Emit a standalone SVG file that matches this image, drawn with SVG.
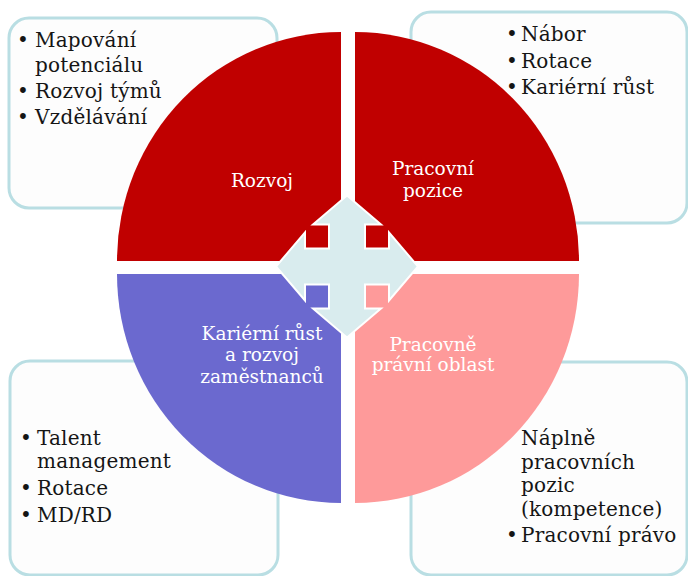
<svg xmlns="http://www.w3.org/2000/svg" width="688" height="576" viewBox="0 0 688 576">
  <style>
    .box { fill: #FDFDFD; stroke: #B9DEE3; stroke-width: 3; }
    .item { font-family: "DejaVu Serif", "Liberation Serif", serif; font-size: 20px; letter-spacing: 0.2px; fill: #151515; }
    .label { font-family: "DejaVu Serif", "Liberation Serif", serif; font-size: 18.5px; fill: #FFFFFF; text-anchor: middle; }
    .arrow { fill: #D9ECEE; stroke: #FFFFFF; stroke-width: 2; stroke-linejoin: miter; }
  </style>

  <!-- outer text panels -->
  <g id="panel-tl">
    <rect class="box" x="9" y="18" width="268" height="190" rx="20"/>
    <text class="item" x="17" y="47">•</text><text class="item" x="35" y="47">Mapování</text>
    <text class="item" x="35" y="72">potenciálu</text>
    <text class="item" x="17" y="98">•</text><text class="item" x="35" y="98">Rozvoj týmů</text>
    <text class="item" x="17" y="124">•</text><text class="item" x="35" y="124">Vzdělávání</text>
  </g>
  <g id="panel-tr">
    <rect class="box" x="411" y="12" width="276" height="211" rx="20"/>
    <text class="item" x="506" y="41">•</text><text class="item" x="521" y="41">Nábor</text>
    <text class="item" x="506" y="67.5">•</text><text class="item" x="521" y="67.5">Rotace</text>
    <text class="item" x="506" y="94">•</text><text class="item" x="521" y="94">Kariérní růst</text>
  </g>
  <g id="panel-bl">
    <rect class="box" x="10" y="361" width="268" height="214" rx="20"/>
    <text class="item" x="20" y="445">•</text><text class="item" x="37" y="445">Talent</text>
    <text class="item" x="37" y="468">management</text>
    <text class="item" x="20" y="495">•</text><text class="item" x="37" y="495">Rotace</text>
    <text class="item" x="20" y="522">•</text><text class="item" x="37" y="522">MD/RD</text>
  </g>
  <g id="panel-br">
    <rect class="box" x="411" y="362" width="276" height="213" rx="20"/>
    <!-- first bullet sits under the edge of the pink quadrant -->
    <text class="item" x="502" y="444">•</text><text class="item" x="521" y="445">Náplně</text>
    <text class="item" x="521" y="469">pracovních</text>
    <text class="item" x="521" y="492">pozic</text>
    <text class="item" x="521" y="516">(kompetence)</text>
    <text class="item" x="506" y="542">•</text><text class="item" x="521" y="542">Pracovní právo</text>
  </g>

  <!-- four quadrants of the central circle -->
  <g id="q-rozvoj">
    <path d="M341,261 L117,261 A224,229 0 0 1 341,32 Z" fill="#C00000"/>
    <text class="label" x="262" y="187">Rozvoj</text>
  </g>
  <g id="q-pozice">
    <path d="M355,261 L355,32 A224,229 0 0 1 579,261 Z" fill="#C00000"/>
    <text class="label" x="433" y="175">Pracovní</text>
    <text class="label" x="433" y="197">pozice</text>
  </g>
  <g id="q-kariera">
    <path d="M341,274 L341,503 A224,229 0 0 1 117,274 Z" fill="#6B69CF"/>
    <text class="label" x="262" y="340">Kariérní růst</text>
    <text class="label" x="262" y="361">a rozvoj</text>
    <text class="label" x="262" y="383">zaměstnanců</text>
  </g>
  <g id="q-pravni">
    <path d="M355,274 L579,274 A224,229 0 0 1 355,503 Z" fill="#FE9A9A"/>
    <text class="label" x="433" y="351">Pracovně</text>
    <text class="label" x="433" y="371">právní oblast</text>
  </g>

  <!-- central four-way arrow -->
  <g id="connectors">
    <path class="arrow" transform="translate(347,266.5)"
      d="M0,-71 L34,-42 L18,-42 L18,-18 L42,-18 L42,-34 L71,0 L42,34 L42,18 L18,18 L18,42 L34,42 L0,71 L-34,42 L-18,42 L-18,18 L-42,18 L-42,34 L-71,0 L-42,-34 L-42,-18 L-18,-18 L-18,-42 L-34,-42 Z"/>
  </g>
</svg>
